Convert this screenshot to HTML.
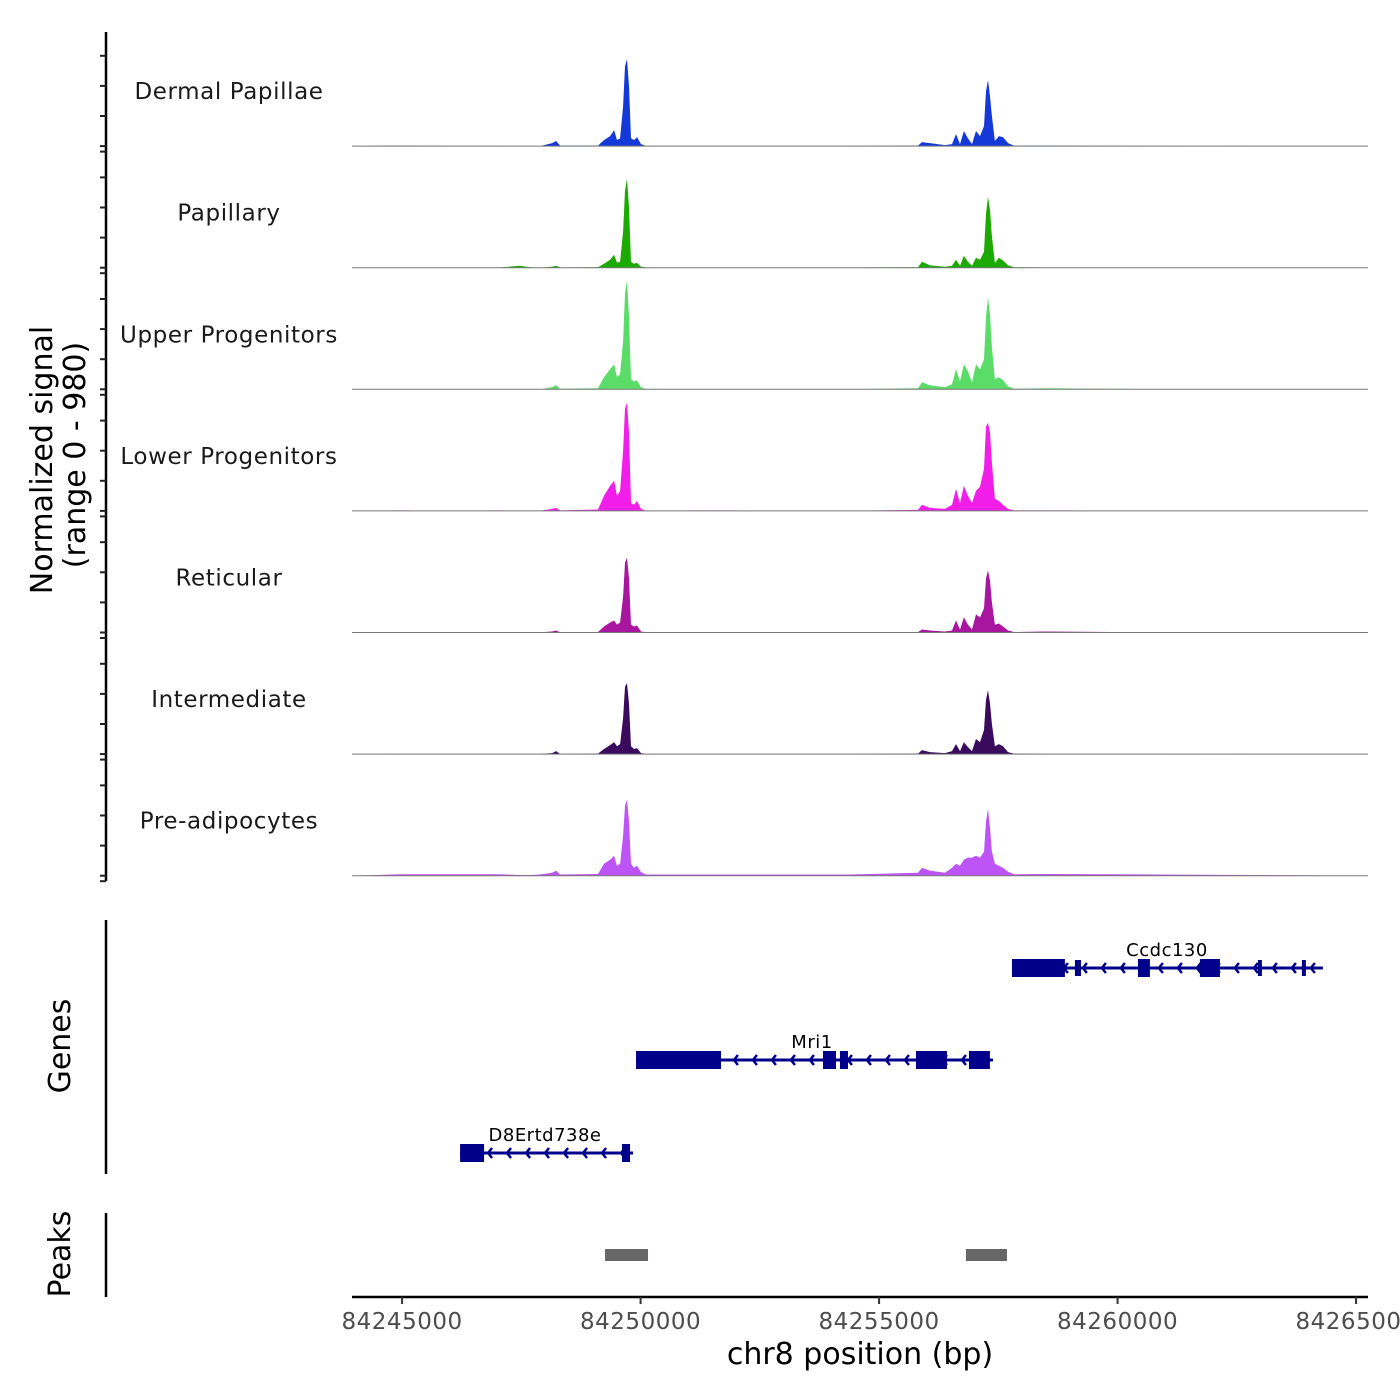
<!DOCTYPE html>
<html><head><meta charset="utf-8"><style>
html,body{margin:0;padding:0;background:#fff;}
svg{display:block;font-family:"DejaVu Sans","Liberation Sans",sans-serif;}
</style></head><body>
<svg id="chart" width="1400" height="1400" viewBox="0 0 1400 1400" xmlns="http://www.w3.org/2000/svg">
<g id="tracks"></g>
<g id="yaxis"></g>
<g id="genes"></g>
<g id="peaks"></g>
<g id="xaxis"></g>
<text transform="translate(52,460) rotate(-90)" text-anchor="middle" font-size="30">Normalized signal</text>
<text transform="translate(85,455) rotate(-90)" text-anchor="middle" font-size="30">(range 0 - 980)</text>
<text transform="translate(70,1046) rotate(-90)" text-anchor="middle" font-size="30">Genes</text>
<text transform="translate(70,1254) rotate(-90)" text-anchor="middle" font-size="30">Peaks</text>
<text x="860" y="1364" text-anchor="middle" font-size="30">chr8 position (bp)</text>
</svg>
<script>
const NS="http://www.w3.org/2000/svg";
const trackNames=["Dermal Papillae","Papillary","Upper Progenitors","Lower Progenitors","Reticular","Intermediate","Pre-adipocytes"];
const trackColors=["#1439d8","#1daa00","#5bdc69","#f01ee8","#a8169f","#3a0b5c","#bd54f5"];
const positions=[84243950,84244958,84246006,84247054,84247473,84247683,84247892,84248144,84248228,84248312,
84249108,84249234,84249360,84249444,84249506,84249570,84249633,84249674,84249716,84249758,
84249800,84249862,84249925,84250009,84250114,84251246,84254390,84255815,84255899,84256066,
84256381,84256528,84256612,84256696,84256779,84256863,84256947,84257031,84257115,84257199,
84257241,84257283,84257325,84257366,84257429,84257513,84257597,84257702,84257828,84258478,
84260888,84265248];
const sigDP=[0,4,2,2,0,0,0,25,42,4, 4,50,83,133,50,66,332,664,722,498, 66,50,75,17,2,2,2,4,33,25, 8,17,100,17,125,66,17,125,83,166, 456,548,415,249,42,83,75,25,4,4, 2,0];
const sigPap=[0,2,2,2,17,4,0,8,17,2, 4,33,66,108,42,50,300,640,739,500, 50,33,40,8,2,2,2,4,50,20, 8,17,66,17,100,50,17,83,66,133, 450,590,480,260,40,83,60,20,4,2, 2,0];
const sigUP=[0,2,2,2,2,0,0,17,33,4, 8,100,166,208,100,125,400,800,905,600, 83,66,75,17,2,2,2,8,58,33, 17,42,166,66,208,150,58,208,166,250, 600,764,620,350,83,100,75,25,4,8, 2,0];
const sigLP=[0,4,2,4,2,2,2,17,25,4, 12,125,208,250,125,166,500,850,897,650, 66,50,83,17,2,4,2,8,50,25, 17,50,183,66,208,125,66,166,200,350, 700,731,650,400,100,83,50,17,4,4, 2,0];
const sigRet=[0,2,2,2,2,2,2,8,17,2, 4,50,83,100,66,83,300,580,623,450, 66,50,58,8,2,2,2,4,25,17, 8,17,100,25,125,66,25,150,125,200, 450,515,430,250,66,75,50,17,4,8, 2,0];
const sigInt=[0,2,2,2,2,2,2,8,25,2, 4,42,75,100,66,83,300,560,590,420, 66,42,50,8,2,2,2,4,33,17, 8,25,83,25,100,58,25,125,100,200, 450,531,420,250,66,83,66,17,4,2, 2,0];
const sigPre=[0,12,12,12,6,6,10,25,42,10, 14,100,133,166,83,100,330,580,631,450, 100,66,83,30,10,10,10,25,66,42, 25,66,100,83,133,150,150,166,150,200, 450,556,400,200,100,83,66,33,12,14, 10,0];
const signals=[sigDP,sigPap,sigUP,sigLP,sigRet,sigInt,sigPre];
const yMax=980;
const xTicks=[84245000,84250000,84255000,84260000,84265000];
const geneNames=["Ccdc130","Mri1","D8Ertd738e"];
const geneStarts=[84257786,84249905,84246216];
const geneEnds=[84264304,84257387,84249842];
const geneExons=[
 [[84257786,84258896,1],[84259106,84259232,0],[84260427,84260678,1],[84261726,84262145,1],[84262942,84263026,0],[84263864,84263927,0]],
 [[84249905,84251686,1],[84253824,84254097,1],[84254180,84254348,1],[84255773,84256423,1],[84256884,84257324,1]],
 [[84246216,84246719,1],[84249611,84249779,1]]
];
const peakStarts=[84249255,84256821];
const peakEnds=[84250156,84257681];

const X0=352,X1=1368,D0=84243950,D1=84265250;
function xs(bp){return X0+(bp-D0)/(D1-D0)*(X1-X0);}
const trackTop=32, trackH=121.6, plotH=118;
function ys(i,v){return trackTop+trackH*(i+1)-7.5 - v/yMax*plotH;}
function el(tag,attrs,parent){const e=document.createElementNS(NS,tag);for(const k in attrs)e.setAttribute(k,attrs[k]);parent.appendChild(e);return e;}

const gT=document.getElementById('tracks');
signals.forEach((s,i)=>{
  const base=ys(i,0);
  let d="M"+xs(positions[0])+","+base;
  s.forEach((v,j)=>{d+=" L"+xs(positions[j]).toFixed(1)+","+ys(i,v).toFixed(1);});
  d+=" L"+xs(positions[positions.length-1])+","+base+" Z";
  const p=el('path',{d:d,fill:trackColors[i]},gT);
  
  
  const l=el('line',{x1:X0,x2:X1,y1:base,y2:base,stroke:'#777','stroke-width':1},gT);
  
  
  const t=el('text',{x:229,y:base-47,'text-anchor':'middle','font-size':23,'letter-spacing':'0.6',fill:'#1a1a1a'},gT);
  t.textContent=trackNames[i];
  
  
});
const gY=document.getElementById('yaxis');
el('line',{x1:106,x2:106,y1:32,y2:881,stroke:'#000','stroke-width':2.5},gY);
signals.forEach((s,i)=>{
  [0,250,500,750].forEach(v=>{
    const y=ys(i,v);
    const tk=el('line',{x1:100,x2:106,y1:y,y2:y,stroke:'#222','stroke-width':2},gY);
    
    
  });
  const yb=trackTop+trackH*(i+1)-2;
  el('line',{x1:100,x2:106,y1:yb,y2:yb,stroke:'#222','stroke-width':2},gY);
});
const gG=document.getElementById('genes');
el('line',{x1:106,x2:106,y1:920,y2:1174,stroke:'#000','stroke-width':2.5},gG);
const rowY=[968,1060,1153];
const labelX=[1167,812,545];
geneNames.forEach((n,i)=>{
  const y=rowY[i],c="#00008b";
  const a=xs(geneStarts[i]),b=xs(geneEnds[i]);
  const ln=el('line',{x1:a,x2:b,y1:y,y2:y,stroke:c,'stroke-width':3},gG);
  
  
  for(let x=b-12;x>a+8;x-=19){
    el('polyline',{points:(x+4)+","+(y-5)+" "+x+","+y+" "+(x+4)+","+(y+5),fill:'none',stroke:c,'stroke-width':2.5},gG);
  }
  geneExons[i].forEach(e=>{
    const h=e[2]?18:16, x1=xs(e[0]), w=Math.max(xs(e[1])-x1,4);
    const r=el('rect',{x:x1,y:y-h/2,width:w,height:h,fill:c},gG);
    
    
  });
  const t=el('text',{x:labelX[i],y:y-12,'text-anchor':'middle','font-size':18,'letter-spacing':'0.5',fill:'#000'},gG);
  t.textContent=n;
  
  
});
const gP=document.getElementById('peaks');
el('line',{x1:106,x2:106,y1:1213,y2:1297,stroke:'#000','stroke-width':2.5},gP);
peakStarts.forEach((s,i)=>{
  const r=el('rect',{x:xs(s),y:1249,width:xs(peakEnds[i])-xs(s),height:12,fill:'#666'},gP);
  
  
});
const gX=document.getElementById('xaxis');
el('line',{x1:X0,x2:X1,y1:1297,y2:1297,stroke:'#000','stroke-width':2.5},gX);
xTicks.forEach(t=>{
  const x=xs(t);
  const tk=el('line',{x1:x,x2:x,y1:1297,y2:1304,stroke:'#333','stroke-width':2},gX);
  
  
  const lb=el('text',{x:x,y:1329,'text-anchor':'middle','font-size':23,'letter-spacing':'0.5',fill:'#4d4d4d'},gX);
  lb.textContent=t;
  
  
});
</script>
</body></html>
